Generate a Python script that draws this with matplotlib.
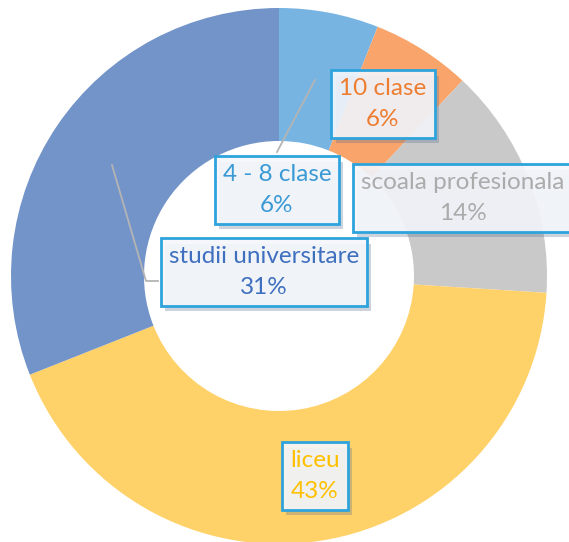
import matplotlib.pyplot as plt
import matplotlib.patheffects as pe

# education level breakdown (percent)
categories = ['4 - 8 clase', '10 clase', 'scoala profesionala', 'liceu', 'studii universitare']
shares = [6, 6, 14, 43, 31]
slice_colors = ['#78B4E2', '#F8A46A', '#C9C9C9', '#FFD169', '#7394C9']
text_colors = ['#3A9AD6', '#ED7D31', '#ABABAB', '#FFC000', '#3F6FBF']

# label box centres, in pixel coordinates (y measured from the top)
label_pos = [(277, 190), (383, 104), (463, 198), (315, 476), (264, 272)]

W, H = 569, 542
fig = plt.figure(figsize=(W / 100, H / 100), dpi=100)
ax = fig.add_axes([0, 0, 1, 1])

cx, cy, r_out, r_in = 279, H - 276, 268, 135
ax.pie(shares, colors=slice_colors, startangle=90, counterclock=False,
       center=(cx, cy), radius=r_out,
       wedgeprops=dict(width=r_out - r_in, linewidth=0))

ax.set_xlim(0, W)
ax.set_ylim(0, H)
ax.set_aspect('equal')
ax.axis('off')

# leader lines for the two labels pulled off their slices
line_kw = dict(color='#B4B4B4', lw=1.3, zorder=2)
ax.plot([277, 315], [H - 152, H - 80], **line_kw)
ax.plot([158, 146, 112], [H - 281, H - 281, H - 165], **line_kw)

for cat, val, tc, (x, y) in zip(categories, shares, text_colors, label_pos):
    t = ax.text(x, H - y, f'{cat}\n{val}%', color=tc, fontsize=17.5,
                family=['Lato', 'DejaVu Sans'], ha='center', va='center',
                linespacing=1.55, zorder=5,
                bbox=dict(boxstyle='square,pad=0.33', fc=(0.96, 0.97, 0.99, 0.9),
                          ec='#2EA3DC', lw=2))
    t.get_bbox_patch().set_path_effects(
        [pe.SimplePatchShadow(offset=(3, -4), shadow_rgbFace='#5A6E8C', alpha=0.3),
         pe.Normal()])

fig.savefig('out.png', dpi=100)
